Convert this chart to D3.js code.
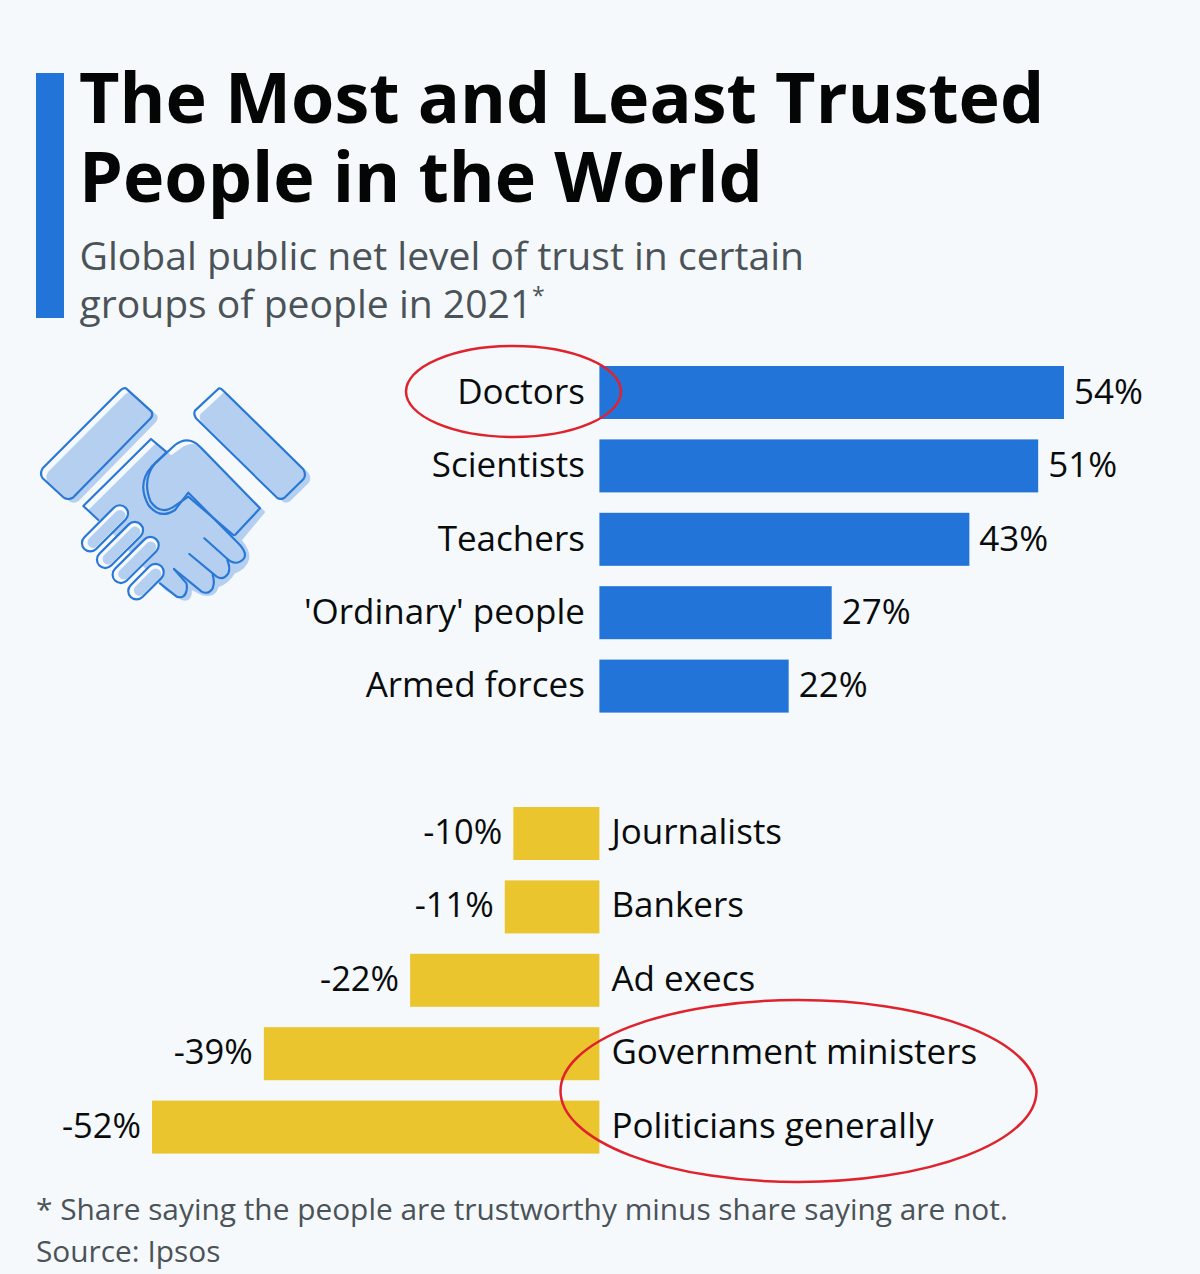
<!DOCTYPE html>
<html>
<head>
<meta charset="utf-8">
<script src="https://d3js.org/d3.v7.min.js"></script>
<style>
html, body { margin: 0; padding: 0; background: #f5f9fc; }
svg { display: block; }
text { font-family: "Open Sans", sans-serif; }
</style>
</head>
<body>
<div id="chart"></div>
<script>
// Data
var topLabels = ["Doctors", "Scientists", "Teachers", "'Ordinary' people", "Armed forces"];
var topValues = [54, 51, 43, 27, 22];
var bottomLabels = ["Journalists", "Bankers", "Ad execs", "Government ministers", "Politicians generally"];
var bottomValues = [-10, -11, -22, -39, -52];
var titleLines = ["The Most and Least Trusted", "People in the World"];
var subtitleLines = ["Global public net level of trust in certain", "groups of people in 2021"];
var footLines = ["* Share saying the people are trustworthy minus share saying are not.", "Source: Ipsos"];

var width = 1200, height = 1274;
var barHeight = 53;
var blue = "#2274d9", yellow = "#ebc52d", red = "#e0222c";

var svg = d3.select("#chart").append("svg")
    .attr("width", width)
    .attr("height", height);

svg.append("rect").attr("width", width).attr("height", height).attr("fill", "#f5f9fc");

// header
svg.append("rect").attr("x", 36).attr("y", 73).attr("width", 28).attr("height", 245).attr("fill", blue);

svg.selectAll(".title").data(titleLines).enter().append("text")
    .attr("class", "title")
    .attr("x", 79)
    .attr("y", function (d, i) { return 123 + i * 78.5; })
    .attr("font-size", 70)
    .attr("font-weight", 700)
    .attr("fill", "#040605")
    .text(function (d) { return d; });

svg.selectAll(".subtitle").data(subtitleLines).enter().append("text")
    .attr("class", "subtitle")
    .attr("x", 79.5)
    .attr("y", function (d, i) { return 269.5 + i * 48; })
    .attr("font-size", 39.1)
    .attr("fill", "#4b5358")
    .text(function (d) { return d; });

svg.append("text").attr("x", 532).attr("y", 304).attr("font-size", 23).attr("fill", "#4b5358").text("*");

// scales
var x = d3.scaleLinear().domain([-52, 54]).range([152, 1064]);
var yTop = d3.scaleBand().domain(topLabels).range([366, 366 + 4 * 73.4 + barHeight]).paddingInner(1 - barHeight / 73.4).paddingOuter(0);
var yBottom = d3.scaleBand().domain(bottomLabels).range([807, 807 + 4 * 73.4 + barHeight]).paddingInner(1 - barHeight / 73.4).paddingOuter(0);

// top bars
var topGroup = svg.append("g");
topGroup.selectAll("rect").data(topLabels).enter().append("rect")
    .attr("x", x(0))
    .attr("y", function (d) { return yTop(d); })
    .attr("width", function (d, i) { return x(topValues[i]) - x(0); })
    .attr("height", yTop.bandwidth())
    .attr("fill", blue);
topGroup.selectAll(".cat").data(topLabels).enter().append("text")
    .attr("class", "cat")
    .attr("x", x(0) - 14.5)
    .attr("y", function (d) { return yTop(d) + 37.7; })
    .attr("text-anchor", "end")
    .attr("font-size", 35)
    .attr("fill", "#0a0c0c")
    .text(function (d) { return d; });
topGroup.selectAll(".val").data(topLabels).enter().append("text")
    .attr("class", "val")
    .attr("x", function (d, i) { return x(topValues[i]) + 10; })
    .attr("y", function (d) { return yTop(d) + 37.7; })
    .attr("font-size", 35)
    .attr("fill", "#0a0c0c")
    .text(function (d, i) { return topValues[i] + "%"; });

// bottom bars
var bottomGroup = svg.append("g");
bottomGroup.selectAll("rect").data(bottomLabels).enter().append("rect")
    .attr("x", function (d, i) { return x(bottomValues[i]); })
    .attr("y", function (d) { return yBottom(d); })
    .attr("width", function (d, i) { return x(0) - x(bottomValues[i]); })
    .attr("height", yBottom.bandwidth())
    .attr("fill", yellow);
bottomGroup.selectAll(".cat").data(bottomLabels).enter().append("text")
    .attr("class", "cat")
    .attr("x", x(0) + 12)
    .attr("y", function (d) { return yBottom(d) + 37; })
    .attr("font-size", 35)
    .attr("fill", "#0a0c0c")
    .text(function (d) { return d; });
bottomGroup.selectAll(".val").data(bottomLabels).enter().append("text")
    .attr("class", "val")
    .attr("x", function (d, i) { return x(bottomValues[i]) - 11; })
    .attr("y", function (d) { return yBottom(d) + 37; })
    .attr("text-anchor", "end")
    .attr("font-size", 34.5)
    .attr("fill", "#0a0c0c")
    .text(function (d, i) { return bottomValues[i] + "%"; });

// red circles
svg.append("ellipse").attr("cx", 513.5).attr("cy", 391.5).attr("rx", 107.5).attr("ry", 45.5)
    .attr("fill", "none").attr("stroke", red).attr("stroke-width", 2.5);
svg.append("ellipse").attr("cx", 798.5).attr("cy", 1091).attr("rx", 238).attr("ry", 91)
    .attr("fill", "none").attr("stroke", red).attr("stroke-width", 2.5);

// footer
svg.selectAll(".foot").data(footLines).enter().append("text")
    .attr("class", "foot")
    .attr("x", 36)
    .attr("y", function (d, i) { return 1220 + i * 42; })
    .attr("font-size", 29.85)
    .attr("fill", "#4b5358")
    .text(function (d) { return d; });

// handshake icon, coordinates at 3x
var icon = svg.append("g").attr("transform", "translate(20,370) scale(0.3333)");
var lineBlue = "#2a78d6", fillBlue = "#b4cff0";
var bars = [
    "M318 55 L395 125 Q400 135 392 145 L160 382 Q145 392 130 382 L68 325 Q58 312 68 295 L300 62 Q310 52 318 55 Z",
    "M597 55 L525 122 Q520 132 528 145 L770 382 Q782 392 795 382 L850 328 Q860 315 850 298 L610 62 Q603 54 597 55 Z"
];
var body = "M393 207 L190 408 L235 450 L420 650 L470 680 Q500 688 500 650 L530 665 Q570 675 580 640 Q610 630 628 600 Q665 585 672 555 Q675 530 650 500 L720 415 L540 230 Q505 195 465 225 L438 245 Z";
var shade = icon.append("g").attr("transform", "translate(16,11)").attr("fill", fillBlue);
bars.forEach(function (d) { shade.append("path").attr("d", d); });
shade.append("path").attr("d", body);

// palm outlines
var outline = icon.append("g").attr("fill", "none").attr("stroke", lineBlue)
    .attr("stroke-width", 6.5).attr("stroke-linejoin", "round").attr("stroke-linecap", "round");
bars.forEach(function (d) { outline.append("path").attr("d", d); });
outline.append("path").attr("d", "M438 245 L393 207 L190 408 L235 450");
outline.append("path").attr("d", "M645 495 L720 415 L540 230 Q505 195 465 225 L395 290 Q350 340 385 405 Q420 450 465 420 L505 368 L660 525 Q690 560 660 575 Q640 585 620 565 L553 505");
outline.append("path").attr("d", "M438 248 L405 280 Q365 330 392 395 Q420 435 458 412 L505 380 L640 495");
outline.append("path").attr("d", "M508 552 L590 620 Q610 632 625 610 Q632 595 622 570");
outline.append("path").attr("d", "M462 597 L545 665 Q565 675 578 655 Q585 635 578 615");
outline.append("path").attr("d", "M420 640 L470 680 Q495 688 500 660 Q503 640 495 635 L462 597");

// fingers
var fingers = [[378, 635, 130], [347, 570, 175], [300, 525, 175], [255, 475, 175]];
fingers.forEach(function (f) {
    var g = icon.append("g").attr("transform", "translate(" + f[0] + "," + f[1] + ") rotate(-45)");
    g.append("rect").attr("x", -f[2] / 2).attr("y", -25).attr("width", f[2]).attr("height", 50).attr("rx", 25)
        .attr("fill", "#f5f9fc").attr("stroke", lineBlue).attr("stroke-width", 6.5);
    g.append("rect").attr("x", -f[2] / 2 + 16).attr("y", -12).attr("width", f[2] - 28).attr("height", 33).attr("rx", 16)
        .attr("fill", fillBlue);
});
</script>
</body>
</html>
